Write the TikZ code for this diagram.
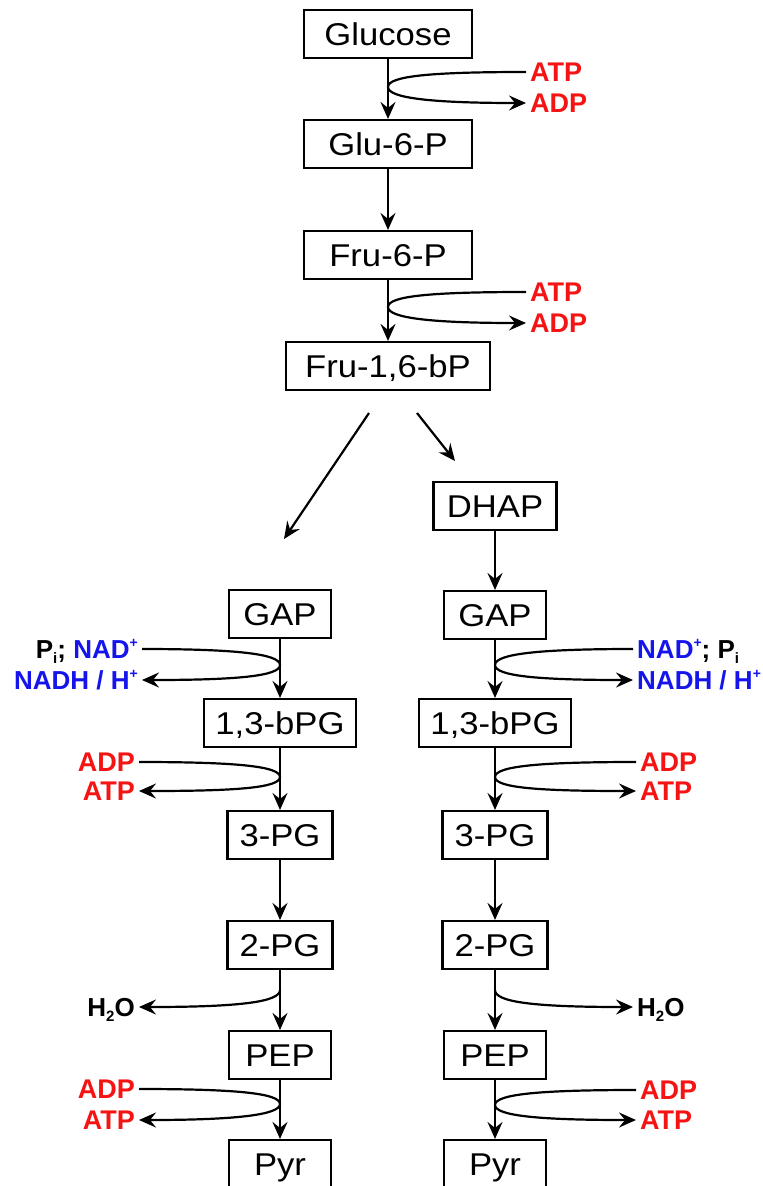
\documentclass[tikz,border=0pt]{standalone}
\usepackage{fontspec}
\setmainfont{Liberation Sans}
\newfontfamily\boxfont[FakeStretch=1.1]{Liberation Sans}
\usetikzlibrary{arrows.meta}
\definecolor{rxred}{RGB}{245,20,20}
\definecolor{rxblue}{RGB}{20,20,235}
\newcommand\supx[1]{\raisebox{0.40em}{\fontsize{14}{14}\selectfont #1}}
\newcommand\subx[1]{\raisebox{-0.2em}{\fontsize{15}{15}\selectfont #1}}
\begin{document}
\begin{tikzpicture}[x=1pt,y=-1pt,
  box/.style={draw,line width=2.1pt,minimum height=48pt,inner xsep=0pt,
    font=\boxfont\fontsize{31.5}{38}\selectfont,text height=22.5pt,text depth=0pt},
  lab/.style={font=\fontsize{27}{30}\selectfont\bfseries,inner xsep=4pt,inner ysep=0pt,
    text height=19.3pt,text depth=0pt},
  labs/.style={lab,font=\fontsize{26}{30}\selectfont\bfseries,text height=18.6pt},
  arr/.style={line width=2.2pt,-{Stealth[length=17pt,width=15pt,inset=6pt]}}
]
\useasboundingbox (0,0) rectangle (763,1186);
% main boxes
\node[box,minimum width=168pt] (glc) at (388,34) {Glucose};
\node[box,minimum width=168pt] (g6p) at (388,144) {Glu-6-P};
\node[box,minimum width=168pt] (f6p) at (388,255) {Fru-6-P};
\node[box,minimum width=204pt] (fbp) at (388,366) {Fru-1,6-bP};
\node[box,minimum width=123pt] (dhap) at (495,506) {DHAP};
\node[box,minimum width=102pt] (gapL) at (280,614) {GAP};
\node[box,minimum width=102pt] (gapR) at (495,615) {GAP};
\node[box,minimum width=152pt] (bpgL) at (280,723) {1,3-bPG};
\node[box,minimum width=152pt] (bpgR) at (495,723) {1,3-bPG};
\node[box,minimum width=105pt] (pgaL) at (280,835) {3-PG};
\node[box,minimum width=105pt] (pgaR) at (495,835) {3-PG};
\node[box,minimum width=105pt] (pgbL) at (280,945) {2-PG};
\node[box,minimum width=105pt] (pgbR) at (495,945) {2-PG};
\node[box,minimum width=102pt] (pepL) at (280,1055) {PEP};
\node[box,minimum width=102pt] (pepR) at (495,1055) {PEP};
\node[box,minimum width=102pt] (pyrL) at (280,1164) {Pyr};
\node[box,minimum width=102pt] (pyrR) at (495,1164) {Pyr};
% main arrows
\draw[arr] (glc) -- (g6p);
\draw[arr] (g6p) -- (f6p);
\draw[arr] (f6p) -- (fbp);
\coordinate (dL1) at (369,413);
\coordinate (dL2) at (284,539);
\coordinate (dR1) at (417,413);
\coordinate (dR2) at (455,461);
\draw[arr] (dL1) -- (dL2);
\draw[arr] (dR1) -- (dR2);
\draw[arr] (dhap) -- (gapR);
\draw[arr] (gapL) -- (bpgL);
\draw[arr] (gapR) -- (bpgR);
\draw[arr] (bpgL) -- (pgaL);
\draw[arr] (bpgR) -- (pgaR);
\draw[arr] (pgaL) -- (pgbL);
\draw[arr] (pgaR) -- (pgbR);
\draw[arr] (pgbL) -- (pepL);
\draw[arr] (pgbR) -- (pepR);
\draw[arr] (pepL) -- (pyrL);
\draw[arr] (pepR) -- (pyrR);
% top side reactions
\node[lab,text=rxred,anchor=west] (atp1) at (526,72) {ATP};
\node[lab,text=rxred,anchor=west] (adp1) at (526,103) {ADP};
\coordinate (v1) at (388,87);
\draw[arr] (atp1.west) .. controls +(-95,0) and +(0,-11) .. (v1)
  .. controls +(0,11) and +(-95,0) .. (adp1.west);
\node[lab,text=rxred,anchor=west] (atp2) at (526,292) {ATP};
\node[lab,text=rxred,anchor=west] (adp2) at (526,323) {ADP};
\coordinate (v2) at (388,307);
\draw[arr] (atp2.west) .. controls +(-95,0) and +(0,-11) .. (v2)
  .. controls +(0,11) and +(-95,0) .. (adp2.west);
% left column side reactions
\node[labs,anchor=east] (pnadL) at (142,649) {P\subx{i}; \textcolor{rxblue}{NAD\supx{+}}};
\node[labs,text=rxblue,anchor=east] (nadhL) at (142,680) {NADH / H\supx{+}};
\coordinate (vL1) at (280,665);
\draw[arr] (pnadL.east) .. controls +(95,0) and +(0,-11) .. (vL1)
  .. controls +(0,11) and +(95,0) .. (nadhL.east);
\node[lab,text=rxred,anchor=east] (adpL1) at (139,762) {ADP};
\node[lab,text=rxred,anchor=east] (atpL1) at (139,791) {ATP};
\coordinate (vL2) at (280,777);
\draw[arr] (adpL1.east) .. controls +(95,0) and +(0,-11) .. (vL2)
  .. controls +(0,11) and +(95,0) .. (atpL1.east);
\node[labs,anchor=east] (h2oL) at (139,1007) {H\subx{2}O};
\coordinate (vL3) at (280,990);
\draw[arr] (vL3) .. controls +(0,12) and +(100,0) .. (h2oL.east);
\node[lab,text=rxred,anchor=east] (adpL2) at (139,1089) {ADP};
\node[lab,text=rxred,anchor=east] (atpL2) at (139,1120) {ATP};
\coordinate (vL4) at (280,1104);
\draw[arr] (adpL2.east) .. controls +(95,0) and +(0,-11) .. (vL4)
  .. controls +(0,11) and +(95,0) .. (atpL2.east);
% right column side reactions
\node[labs,anchor=west] (nadR) at (633,649) {\textcolor{rxblue}{NAD\supx{+}}; P\subx{i}};
\node[labs,text=rxblue,anchor=west] (nadhR) at (633,680) {NADH / H\supx{+}};
\coordinate (vR1) at (495,665);
\draw[arr] (nadR.west) .. controls +(-95,0) and +(0,-11) .. (vR1)
  .. controls +(0,11) and +(-95,0) .. (nadhR.west);
\node[lab,text=rxred,anchor=west] (adpR1) at (636,762) {ADP};
\node[lab,text=rxred,anchor=west] (atpR1) at (636,791) {ATP};
\coordinate (vR2) at (495,777);
\draw[arr] (adpR1.west) .. controls +(-95,0) and +(0,-11) .. (vR2)
  .. controls +(0,11) and +(-95,0) .. (atpR1.west);
\node[labs,anchor=west] (h2oR) at (633,1007) {H\subx{2}O};
\coordinate (vR3) at (495,990);
\draw[arr] (vR3) .. controls +(0,12) and +(-100,0) .. (h2oR.west);
\node[lab,text=rxred,anchor=west] (adpR2) at (636,1090) {ADP};
\node[lab,text=rxred,anchor=west] (atpR2) at (636,1120) {ATP};
\coordinate (vR4) at (495,1105);
\draw[arr] (adpR2.west) .. controls +(-95,0) and +(0,-11) .. (vR4)
  .. controls +(0,11) and +(-95,0) .. (atpR2.west);
\end{tikzpicture}
\end{document}
